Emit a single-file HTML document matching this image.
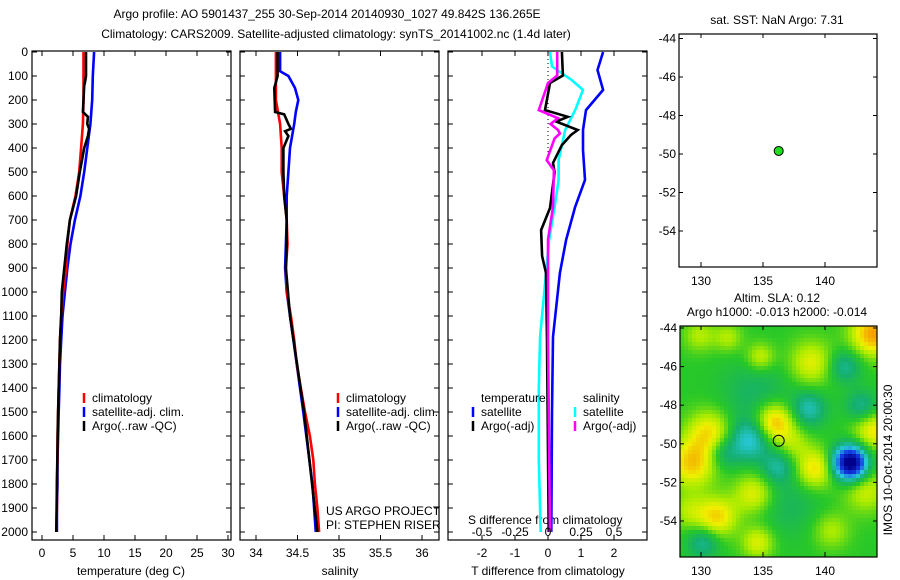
<!DOCTYPE html>
<html><head><meta charset="utf-8"><style>
html,body{margin:0;padding:0;background:#fff;}
svg{display:block;font-family:"Liberation Sans",sans-serif;font-size:12px;}
</style></head><body>
<svg id="chart" width="900" height="580" viewBox="0 0 900 580" xmlns="http://www.w3.org/2000/svg">
<text x="327" y="18" text-anchor="middle">Argo profile: AO 5901437_255 30-Sep-2014 20140930_1027 49.842S 136.265E</text>
<text x="336" y="38" text-anchor="middle">Climatology: CARS2009. Satellite-adjusted climatology: synTS_20141002.nc (1.4d later)</text>
<text x="777" y="24" text-anchor="middle">sat. SST: NaN Argo: 7.31</text>
<text x="777" y="302" text-anchor="middle">Altim. SLA: 0.12</text>
<text x="777" y="316" text-anchor="middle">Argo h1000: -0.013 h2000: -0.014</text>
<text transform="translate(892,460) rotate(-90)" text-anchor="middle">IMOS 10-Oct-2014 20:00:30</text>
<text x="326" y="515">US ARGO PROJECT</text>
<text x="326" y="529">PI: STEPHEN RISER</text>
<text x="468" y="524">S difference from climatology</text>
<text x="131" y="575" text-anchor="middle">temperature (deg C)</text>
<text x="340" y="575" text-anchor="middle">salinity</text>
<text x="548" y="575" text-anchor="middle">T difference from climatology</text>
<g id="g"></g>
</svg>
<script>
// ---- data ----
const depths = [0,100,200,300,400,500,600,700,800,900,1000,1100,1200,1300,1400,1500,1600,1700,1800,1900,2000];
const tempClim = [6.7,6.7,6.7,6.6,6.3,6.0,5.4,4.5,4.1,3.9,3.4,3.1,2.9,2.8,2.7,2.6,2.5,2.5,2.4,2.4,2.3];
const tempSat  = [8.4,8.2,8.1,7.8,7.3,6.8,6.2,5.3,4.6,4.1,3.7,3.3,3.1,2.9,2.8,2.7,2.6,2.5,2.5,2.4,2.4];
const argoDepths = [0,100,130,140,250,270,300,320,350,400,500,600,700,800,900,1000,1100,1200,1500,1800,2000];
const tempArgo = [7.1,7.1,6.9,6.8,6.6,7.4,7.3,7.6,7.4,6.8,6.1,5.5,4.5,4.0,3.6,3.2,3.1,2.9,2.6,2.4,2.3];
const salClim = [34.24,34.24,34.24,34.29,34.31,34.31,34.34,34.37,34.38,34.36,34.37,34.42,34.46,34.49,34.54,34.59,34.65,34.69,34.71,34.74,34.76];
const salSatDepths = [0,80,100,150,200,250,300,400,500,600,700,800,900,1000,1200,1500,1800,2000];
const salSat = [34.29,34.29,34.39,34.47,34.51,34.48,34.46,34.41,34.39,34.37,34.37,34.36,34.35,34.37,34.45,34.57,34.68,34.72];
const salArgoDepths = [0,100,150,250,260,300,320,330,350,400,500,600,700,800,900,1100,1500,2000];
const salArgo = [34.26,34.26,34.22,34.23,34.34,34.39,34.42,34.35,34.39,34.33,34.33,34.34,34.37,34.37,34.36,34.41,34.58,34.74];
const dTDepths = [0,75,158,242,325,408,533,646,783,921,1187,1500,2000];
const dTSat = [1.67,1.5,1.67,1.15,1.06,1.06,1.12,0.82,0.55,0.36,0.15,0.12,0.1];
const dTArgoDepths = [0,98,129,242,270,290,325,345,388,462,500,650,742,850,921,1200,2000];
const dTArgo = [0.42,0.45,0.06,-0.09,0.6,0.25,0.9,0.7,0.42,0.15,0.2,0.06,-0.21,-0.18,-0.06,-0.03,0.02];
const dSSatDepths = [0,60,117,158,237,325,450,533,646,783,921,1187,1400,1700,2000];
const dSSat = [0.015,0.03,0.18,0.265,0.21,0.13,0.08,0.08,0.05,0.008,-0.015,-0.06,-0.07,-0.07,-0.055];
const dSArgoDepths = [0,98,129,242,276,300,325,340,360,451,492,646,783,1200,2000];
const dSArgo = [0.07,0.07,0.0,-0.07,0.076,0.02,0.076,0.09,0.05,-0.01,0.045,0.038,0.0,0.0,0.015];
const depthTicks = [0,100,200,300,400,500,600,700,800,900,1000,1100,1200,1300,1400,1500,1600,1700,1800,1900,2000];
const tempTicks = [0,5,10,15,20,25,30];
const salTicks = [34,34.5,35,35.5,36];
const tdTicks = [-2,-1,0,1,2];
const sdTicks = [-0.5,-0.25,0,0.25,0.5];
const lonTicks = [130,135,140];
const latTicks = [44,46,48,50,52,54];
const floatLon = [136.265];
const floatLat = [49.842];
// SLA anomaly blobs: lon, lat, amplitude, radius (px)
const blobLon = [135.9,134.0,142.05,129.3,130.7,131.3,134.3,139.2,143.9,143.9,138.9,143.3,138.7,143.0,141.6,136.2,131.8,130.2,134.6,134.8,129.9,132.2,134.5,137.0,140.5,137.5,129.0];
const blobLat = [48.9,49.8,51.0,51.0,49.4,53.8,52.6,51.3,44.3,49.3,45.8,52.4,48.2,48.1,46.0,51.2,50.5,55.1,55.1,45.5,44.4,44.5,47.5,53.0,54.5,50.0,53.5];
const blobAmp = [0.55,-0.45,-1.25,0.45,0.38,0.42,0.35,0.42,0.55,0.38,0.32,0.28,-0.35,-0.3,-0.3,-0.28,-0.25,-0.3,0.32,0.28,0.22,0.22,-0.18,-0.15,0.22,0.18,0.2];
const blobR = [20,20,17,24,22,20,20,20,22,20,22,22,17,16,16,16,16,16,16,14,16,14,35,35,18,16,18];

// ---- helpers ----
const NS="http://www.w3.org/2000/svg";
const G=document.getElementById('g');
function mk(tag,attrs,name,parent){
  const el=document.createElementNS(NS,tag);
  for(const k in attrs) el.setAttribute(k,attrs[k]);
  
  
  (parent||G).appendChild(el);
  return el;
}
function txt(x,y,s,anchor,name){const t=mk('text',{x:x,y:y,'text-anchor':anchor||'middle'},name);t.textContent=s;return t;}
const TOP=51,BOT=540;
const yD=d=>52+0.24*d;
const P1={l:32,r:231},P2={l:240,r:439},P3={l:448,r:647};
const xT=v=>42+6.2*v, xS=v=>256+83*(v-34), xTD=v=>548+33*v, xSD=v=>548+132*v;

function frame(P,t,b,name){mk('rect',{x:P.l,y:t,width:P.r-P.l,height:b-t,fill:'none',stroke:'#000','stroke-width':1.2},name);}
function depthTicksOn(P,labels){
  depthTicks.forEach(d=>{
    const y=yD(d);
    mk('line',{x1:P.l,y1:y,x2:P.l+5,y2:y,stroke:'#000'},'depth-tick');
    mk('line',{x1:P.r,y1:y,x2:P.r-5,y2:y,stroke:'#000'},'depth-tick');
    if(labels) txt(28,y+4,String(d),'end','depth-tick-label');
  });
}
function xTicks(P,ticks,fx,labelY,fmt,top){
  ticks.forEach(v=>{
    const x=fx(v);
    mk('line',{x1:x,y1:BOT,x2:x,y2:BOT-5,stroke:'#000'},'x-tick');
    if(top) mk('line',{x1:x,y1:TOP,x2:x,y2:TOP+5,stroke:'#000'},'x-tick');
    if(labelY) txt(x,labelY,fmt?fmt(v):String(v),'middle','x-tick-label');
  });
}
function line(ds,vs,fx,color,name,w){
  const pts=ds.map((d,i)=>fx(vs[i]).toFixed(1)+','+yD(d).toFixed(1)).join(' ');
  mk('polyline',{points:pts,fill:'none',stroke:color,'stroke-width':w||2.6,'stroke-linejoin':'miter'},name);
}
function legend(x,y,color,label,name){
  mk('line',{x1:x,y1:y-9,x2:x,y2:y+1,stroke:color,'stroke-width':2.5},name+'-swatch');
  txt(x+8,y,label,'start',name);
}

// Panel 1
line(depths,tempSat,xT,'#0000ff','temp-satellite-line');
line(depths,tempClim,xT,'#ff0000','temp-climatology-line');
line(argoDepths,tempArgo,xT,'#000','temp-argo-line');
frame(P1,TOP,BOT,'temperature-panel-frame');
depthTicksOn(P1,true);
xTicks(P1,tempTicks,xT,557,null,true);
legend(84,402,'#ff0000','climatology','legend-climatology');
legend(84,416,'#0000ff','satellite-adj. clim.','legend-satellite');
legend(84,430,'#000','Argo(..raw -QC)','legend-argo');

// Panel 2
line(salSatDepths,salSat,xS,'#0000ff','sal-satellite-line');
line(depths,salClim,xS,'#ff0000','sal-climatology-line');
line(salArgoDepths,salArgo,xS,'#000','sal-argo-line');
frame(P2,TOP,BOT,'salinity-panel-frame');
depthTicksOn(P2,false);
xTicks(P2,salTicks,xS,557,null,true);
legend(338,402,'#ff0000','climatology','legend-climatology-2');
legend(338,416,'#0000ff','satellite-adj. clim.','legend-satellite-2');
legend(338,430,'#000','Argo(..raw -QC)','legend-argo-2');

// Panel 3
mk('line',{x1:xTD(0),y1:TOP,x2:xTD(0),y2:yD(450),stroke:'#000','stroke-dasharray':'1,3'},'zero-line');
line(dTDepths,dTSat,xTD,'#0000ff','tdiff-satellite-line');
line(dSSatDepths,dSSat,xSD,'#00ffff','sdiff-satellite-line');
line(dTArgoDepths,dTArgo,xTD,'#000','tdiff-argo-line');
line(dSArgoDepths,dSArgo,xSD,'#ff00ff','sdiff-argo-line');
frame(P3,TOP,BOT,'difference-panel-frame');
depthTicksOn(P3,false);
xTicks(P3,tdTicks,xTD,557,null,true);
sdTicks.forEach(v=>txt(xSD(v),536,String(v),'middle','s-diff-tick-label'));
txt(481,402,'temperature','start','legend-temperature-header');
txt(583,402,'salinity','start','legend-salinity-header');
legend(473,416,'#0000ff','satellite','legend-t-satellite');
legend(473,430,'#000','Argo(-adj)','legend-t-argo');
legend(575,416,'#00ffff','satellite','legend-s-satellite');
legend(575,430,'#ff00ff','Argo(-adj)','legend-s-argo');

// Map panels
const xL=v=>701+12.4*(v-130);
function mapAxes(t,b,yL,name,l){
  frame({l:l,r:877},t,b,name);
  lonTicks.forEach(v=>{const x=xL(v);
    mk('line',{x1:x,y1:b,x2:x,y2:b-5,stroke:'#000'},'lon-tick');
    mk('line',{x1:x,y1:t,x2:x,y2:t+4,stroke:'#000'},'lon-tick');
    txt(x,b+18,String(v),'middle','lon-tick-label');});
  latTicks.forEach(v=>{const y=yL(v);
    mk('line',{x1:l,y1:y,x2:l+4,y2:y,stroke:'#000'},'lat-tick');
    mk('line',{x1:877,y1:y,x2:873,y2:y,stroke:'#000'},'lat-tick');
    txt(l-3,y+4,'-'+v,'end','lat-tick-label');});
}
const yL4=v=>38.5+19.25*(v-44);
mapAxes(34,267,yL4,'location-map-frame',679);
mk('circle',{cx:xL(floatLon[0]),cy:yL4(floatLat[0]),r:4.5,fill:'#22dd22',stroke:'#000'},'float-position-marker');

// SLA heatmap
const yL5=v=>328+19.3*(v-44);
const stops=[[-1.1,[0,0,140]],[-0.75,[20,60,230]],[-0.45,[40,200,220]],[-0.2,[20,175,110]],[0,[40,200,40]],[0.2,[170,235,0]],[0.35,[240,240,0]],[0.55,[245,160,0]]];
function cmap(v){
  if(v<=stops[0][0]) return stops[0][1];
  for(let i=1;i<stops.length;i++){ if(v<=stops[i][0]){const a=stops[i-1],b=stops[i],f=(v-a[0])/(b[0]-a[0]);return a[1].map((c,k)=>Math.round(c+(b[1][k]-c)*f));}}
  return stops[stops.length-1][1];
}
const hm=mk('g',{},'sla-heatmap');
const cs=4;
for(let y=326;y<557;y+=cs){for(let x=680;x<877;x+=cs){
  const px=x+cs/2, py=y+cs/2;
  let v=0;
  for(let i=0;i<blobLon.length;i++){const dx=(px-xL(blobLon[i]))/blobR[i],dy=(py-yL5(blobLat[i]))/blobR[i];v+=blobAmp[i]*Math.exp(-(dx*dx+dy*dy));}
  const c=cmap(v);
  mk('rect',{x:x,y:y,width:Math.min(cs,877-x),height:Math.min(cs,557-y),fill:'rgb('+c+')'},'heatmap-cell',hm);
}}
mapAxes(326,557,yL5,'sla-map-frame',680);
mk('circle',{cx:xL(floatLon[0]),cy:yL5(floatLat[0]),r:5.5,fill:'none',stroke:'#000'},'float-position-marker-sla');
</script>
</body></html>
